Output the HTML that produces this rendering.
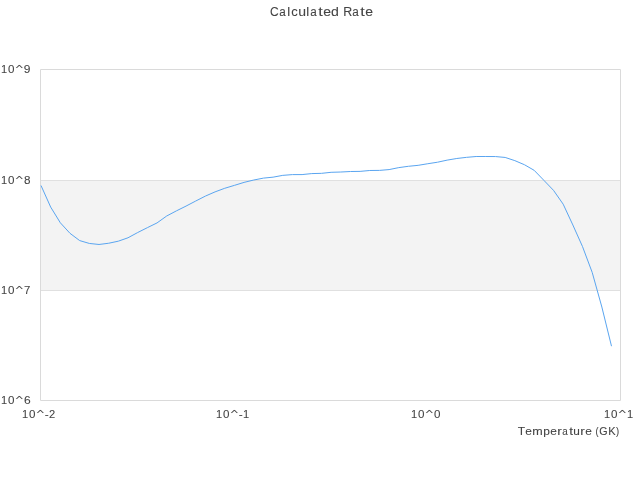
<!DOCTYPE html>
<html><head><meta charset="utf-8"><style>
html,body{margin:0;padding:0;background:#fff;width:640px;height:480px;overflow:hidden}
svg{display:block;will-change:transform}
text{font-family:"Liberation Sans",sans-serif;fill:#444}
</style></head><body>
<svg width="640" height="480" viewBox="0 0 640 480">
<rect x="0" y="0" width="640" height="480" fill="#fff"/>
<rect x="40" y="180" width="580" height="110" fill="#f3f3f3"/>
<g fill="none" stroke-width="1">
<path stroke="#e0e0e0" d="M40.5,180.5 H620.5 M40.5,290.5 H620.5"/>
<path stroke="#dadada" d="M40.5,69.5 H620.5 V400.5 H40.5 Z"/>
</g>
<path d="M41.00,185.50 L50.67,207.07 L60.34,222.79 L70.01,233.33 L79.68,240.58 L89.35,243.45 L99.02,244.47 L108.69,243.24 L118.36,241.16 L128.03,237.77 L137.70,232.53 L147.37,227.66 L157.04,222.92 L166.71,215.99 L176.38,210.88 L186.05,206.09 L195.72,201.03 L205.39,196.10 L215.06,191.89 L224.73,188.29 L234.40,185.37 L244.07,182.38 L253.74,180.03 L263.41,178.12 L273.08,177.16 L282.75,175.36 L292.42,174.60 L302.09,174.58 L311.76,173.58 L321.43,173.35 L331.10,172.31 L340.77,172.03 L350.44,171.50 L360.11,171.39 L369.78,170.49 L379.45,170.40 L389.12,169.58 L398.79,167.61 L408.46,166.29 L418.13,165.34 L427.80,163.73 L437.47,162.23 L447.14,160.13 L456.81,158.49 L466.48,157.35 L476.15,156.50 L485.82,156.50 L495.49,156.55 L505.16,157.44 L514.83,160.64 L524.50,164.75 L534.17,170.32 L543.84,180.29 L553.51,190.35 L563.18,204.18 L572.85,224.97 L582.52,246.59 L592.19,272.40 L601.86,307.05 L611.50,346.20" fill="none" stroke="#5aa5f0" stroke-width="1" stroke-linejoin="round"/>
<g fill="#444" stroke="#444" stroke-width="0.08">
<text transform="translate(274.55,15.60) scale(0.928,1.000)" x="-4.78" font-size="13">C</text>
<text transform="translate(282.78,15.60) scale(0.899,1.040)" x="-3.89" font-size="13">a</text>
<text transform="translate(288.81,15.60) scale(1.022,1.040)" x="-1.45" font-size="13">l</text>
<text transform="translate(294.53,15.60) scale(1.003,1.040)" x="-3.35" font-size="13">c</text>
<text transform="translate(302.08,15.60) scale(1.078,1.040)" x="-3.61" font-size="13">u</text>
<text transform="translate(307.81,15.60) scale(1.022,1.040)" x="-1.45" font-size="13">l</text>
<text transform="translate(313.78,15.60) scale(0.899,1.040)" x="-3.89" font-size="13">a</text>
<text transform="translate(320.57,15.60) scale(1.250,1.040)" x="-1.86" font-size="13">t</text>
<text transform="translate(327.01,15.60) scale(1.080,1.040)" x="-3.60" font-size="13">e</text>
<text transform="translate(334.89,15.60) scale(1.087,1.040)" x="-3.47" font-size="13">d</text>
<text transform="translate(347.97,15.60) scale(0.956,1.000)" x="-4.93" font-size="13">R</text>
<text transform="translate(355.78,15.60) scale(0.899,1.040)" x="-3.89" font-size="13">a</text>
<text transform="translate(362.57,15.60) scale(1.250,1.040)" x="-1.86" font-size="13">t</text>
<text transform="translate(369.01,15.60) scale(1.080,1.040)" x="-3.60" font-size="13">e</text>
<text transform="translate(4.32,73.00) scale(1.007,1.000)" x="-3.21" font-size="11">1</text>
<text transform="translate(11.22,73.00) scale(1.054,1.000)" x="-3.06" font-size="11">0</text>
<text transform="translate(27.18,73.00) scale(1.089,1.000)" x="-3.06" font-size="11">9</text>
<polygon points="19.85,64.98 22.77,67.97 21.69,67.97 19.33,65.85 16.97,67.97 15.89,67.97 18.80,64.98"/>
<text transform="translate(4.32,184.00) scale(1.007,1.000)" x="-3.21" font-size="11">1</text>
<text transform="translate(11.22,184.00) scale(1.054,1.000)" x="-3.06" font-size="11">0</text>
<text transform="translate(27.22,184.00) scale(1.066,1.000)" x="-3.06" font-size="11">8</text>
<polygon points="19.85,175.98 22.77,178.97 21.69,178.97 19.33,176.85 16.97,178.97 15.89,178.97 18.80,175.98"/>
<text transform="translate(4.32,294.00) scale(1.007,1.000)" x="-3.21" font-size="11">1</text>
<text transform="translate(11.22,294.00) scale(1.054,1.000)" x="-3.06" font-size="11">0</text>
<text transform="translate(27.20,294.00) scale(1.031,1.000)" x="-3.06" font-size="11">7</text>
<polygon points="19.85,285.98 22.77,288.97 21.69,288.97 19.33,286.85 16.97,288.97 15.89,288.97 18.80,285.98"/>
<text transform="translate(4.32,404.00) scale(1.007,1.000)" x="-3.21" font-size="11">1</text>
<text transform="translate(11.22,404.00) scale(1.054,1.000)" x="-3.06" font-size="11">0</text>
<text transform="translate(27.26,404.00) scale(1.091,1.000)" x="-3.10" font-size="11">6</text>
<polygon points="19.85,395.98 22.77,398.97 21.69,398.97 19.33,396.85 16.97,398.97 15.89,398.97 18.80,395.98"/>
<text transform="translate(25.34,418.00) scale(1.007,1.000)" x="-3.21" font-size="11">1</text>
<text transform="translate(32.24,418.00) scale(1.054,1.000)" x="-3.06" font-size="11">0</text>
<text transform="translate(46.72,418.00) scale(1.078,1.000)" x="-1.83" font-size="11">-</text>
<text transform="translate(52.09,418.00) scale(1.016,1.000)" x="-3.06" font-size="11">2</text>
<polygon points="40.87,409.98 43.79,412.97 42.71,412.97 40.35,410.85 37.99,412.97 36.91,412.97 39.82,409.98"/>
<text transform="translate(219.34,418.00) scale(1.007,1.000)" x="-3.21" font-size="11">1</text>
<text transform="translate(226.24,418.00) scale(1.054,1.000)" x="-3.06" font-size="11">0</text>
<text transform="translate(240.72,418.00) scale(1.078,1.000)" x="-1.83" font-size="11">-</text>
<text transform="translate(246.34,418.00) scale(1.007,1.000)" x="-3.21" font-size="11">1</text>
<polygon points="234.87,409.98 237.79,412.97 236.71,412.97 234.35,410.85 231.99,412.97 230.91,412.97 233.82,409.98"/>
<text transform="translate(414.34,418.00) scale(1.007,1.000)" x="-3.21" font-size="11">1</text>
<text transform="translate(421.24,418.00) scale(1.054,1.000)" x="-3.06" font-size="11">0</text>
<text transform="translate(437.24,418.00) scale(1.054,1.000)" x="-3.06" font-size="11">0</text>
<polygon points="429.87,409.98 432.79,412.97 431.71,412.97 429.35,410.85 426.99,412.97 425.91,412.97 428.82,409.98"/>
<text transform="translate(607.34,418.00) scale(1.007,1.000)" x="-3.21" font-size="11">1</text>
<text transform="translate(614.24,418.00) scale(1.054,1.000)" x="-3.06" font-size="11">0</text>
<text transform="translate(630.34,418.00) scale(1.007,1.000)" x="-3.21" font-size="11">1</text>
<polygon points="622.87,409.98 625.79,412.97 624.71,412.97 622.35,410.85 619.99,412.97 618.91,412.97 621.82,409.98"/>
<text transform="translate(521.46,434.80) scale(1.091,1.000)" x="-3.36" font-size="11">T</text>
<text transform="translate(528.49,434.80) scale(1.080,1.040)" x="-3.05" font-size="11">e</text>
<text transform="translate(537.49,434.80) scale(1.139,1.040)" x="-4.58" font-size="11">m</text>
<text transform="translate(546.79,434.80) scale(1.088,1.040)" x="-3.18" font-size="11">p</text>
<text transform="translate(553.49,434.80) scale(1.080,1.040)" x="-3.05" font-size="11">e</text>
<text transform="translate(559.86,434.80) scale(1.250,1.040)" x="-2.11" font-size="11">r</text>
<text transform="translate(565.30,434.80) scale(0.899,1.040)" x="-3.29" font-size="11">a</text>
<text transform="translate(571.27,434.80) scale(1.250,1.040)" x="-1.57" font-size="11">t</text>
<text transform="translate(576.55,434.80) scale(1.078,1.040)" x="-3.05" font-size="11">u</text>
<text transform="translate(582.86,434.80) scale(1.250,1.040)" x="-2.11" font-size="11">r</text>
<text transform="translate(588.49,434.80) scale(1.080,1.040)" x="-3.05" font-size="11">e</text>
<text transform="translate(597.28,434.80) scale(0.850,1.000)" x="-2.14" font-size="11">(</text>
<text transform="translate(603.22,434.80) scale(0.975,1.000)" x="-4.14" font-size="11">G</text>
<text transform="translate(612.36,434.80) scale(1.009,1.000)" x="-4.06" font-size="11">K</text>
<text transform="translate(617.21,434.80) scale(0.850,1.000)" x="-1.52" font-size="11">)</text>
</g>
</svg>
</body></html>
